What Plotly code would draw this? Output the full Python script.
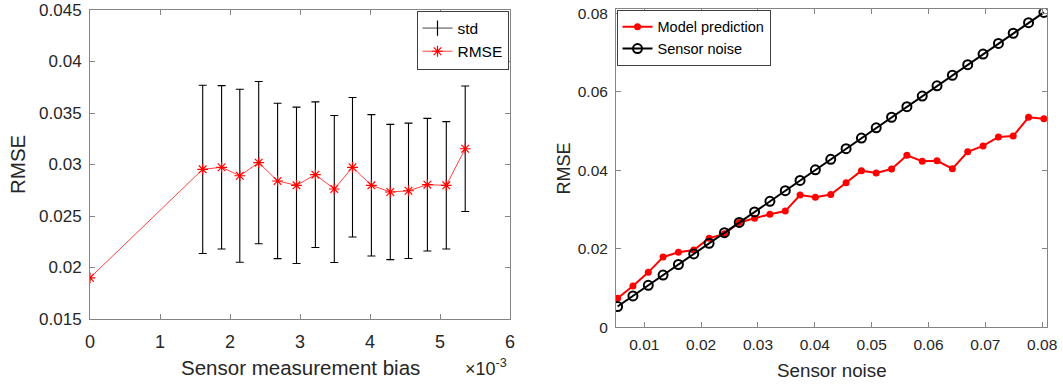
import plotly.graph_objects as go

# ---------------- data: left panel ----------------
bias_x = [0.0, 1.61e-3, 1.88e-3, 2.14e-3, 2.41e-3, 2.68e-3, 2.95e-3, 3.22e-3,
          3.49e-3, 3.75e-3, 4.02e-3, 4.29e-3, 4.55e-3, 4.82e-3, 5.09e-3, 5.36e-3]
bias_rmse = [0.0190, 0.02953, 0.02973, 0.02891, 0.03018, 0.02840, 0.02798, 0.02901,
             0.02762, 0.02973, 0.02798, 0.02733, 0.02745, 0.02804, 0.02798, 0.03153]
# std only exists for the 15 points after the first one
bias_std = [0.00817, 0.00793, 0.00840, 0.00788, 0.00754, 0.00759, 0.00707,
            0.00714, 0.00677, 0.00686, 0.00657, 0.00657, 0.00644, 0.00618, 0.00609]
bias_tickvals = [0, 0.001, 0.002, 0.003, 0.004, 0.005, 0.006]
bias_ticktext = ["0", "1", "2", "3", "4", "5", "6"]
left_yticks = [0.015, 0.02, 0.025, 0.03, 0.035, 0.04, 0.045]
left_yticktext = ["0.015", "0.02", "0.025", "0.03", "0.035", "0.04", "0.045"]

# ---------------- data: right panel ----------------
noise_x = [0.0053, 0.0080, 0.0107, 0.0133, 0.0160, 0.0187, 0.0214, 0.0241, 0.0267,
           0.0294, 0.0321, 0.0348, 0.0374, 0.0401, 0.0428, 0.0455, 0.0482, 0.0508,
           0.0535, 0.0562, 0.0589, 0.0615, 0.0642, 0.0669, 0.0696, 0.0723, 0.0749,
           0.0776, 0.0803]
model_pred = [0.0074, 0.0105, 0.0140, 0.0179, 0.0191, 0.0197, 0.0227, 0.0238, 0.0267,
              0.0278, 0.0288, 0.0296, 0.0337, 0.0331, 0.0338, 0.0368, 0.0399, 0.0393,
              0.0403, 0.0438, 0.0423, 0.0424, 0.0404, 0.0447, 0.0462, 0.0485, 0.0487,
              0.0535, 0.0531]
sensor_noise = [0.0053, 0.0080, 0.0107, 0.0133, 0.0160, 0.0187, 0.0214, 0.0241, 0.0267,
                0.0294, 0.0321, 0.0348, 0.0374, 0.0401, 0.0428, 0.0455, 0.0482, 0.0508,
                0.0535, 0.0562, 0.0589, 0.0615, 0.0642, 0.0669, 0.0696, 0.0723, 0.0749,
                0.0776, 0.0802]
right_xticks = [0.01, 0.02, 0.03, 0.04, 0.05, 0.06, 0.07, 0.08]
right_xticktext = ["0.01", "0.02", "0.03", "0.04", "0.05", "0.06", "0.07", "0.08"]
right_yticks = [0, 0.02, 0.04, 0.06, 0.08]
right_yticktext = ["0", "0.02", "0.04", "0.06", "0.08"]

W, H = 1063, 385
FONT = "Liberation Sans, Arial, sans-serif"
TXT = "#262626"
AX = "#858585"

def px(x):
    return x / W

def py(y):
    return 1 - y / H

fig = go.Figure()

# left: error bars (std)
fig.add_trace(go.Scatter(
    x=bias_x[1:], y=bias_rmse[1:], mode="markers",
    marker=dict(size=1, color="rgba(0,0,0,0)"),
    error_y=dict(type="data", array=bias_std, visible=True, color="black",
                 thickness=1.1, width=4),
    showlegend=False, xaxis="x", yaxis="y", hoverinfo="skip"))
# legend entry for std
fig.add_trace(go.Scatter(
    x=[None], y=[None], mode="lines+markers", name="std",
    line=dict(color="#444444", width=1),
    marker=dict(symbol="line-ns-open", size=11, color="black",
                line=dict(color="black", width=1.2)),
    xaxis="x", yaxis="y", legend="legend"))
# RMSE line
fig.add_trace(go.Scatter(
    x=bias_x, y=bias_rmse, mode="lines+markers", name="RMSE",
    line=dict(color="rgba(255,0,0,0.75)", width=1),
    marker=dict(symbol="asterisk-open", size=9, color="red",
                line=dict(color="red", width=1.2)),
    xaxis="x", yaxis="y", legend="legend"))

# right panel
fig.add_trace(go.Scatter(
    x=noise_x, y=model_pred, mode="lines+markers", name="Model prediction",
    line=dict(color="#ff0000", width=2),
    marker=dict(symbol="circle", size=7, color="#ff0000"),
    xaxis="x2", yaxis="y2", legend="legend2"))
fig.add_trace(go.Scatter(
    x=noise_x, y=sensor_noise, mode="lines+markers", name="Sensor noise",
    line=dict(color="black", width=2),
    marker=dict(symbol="circle-open", size=9, color="black",
                line=dict(color="black", width=2)),
    xaxis="x2", yaxis="y2", legend="legend2"))

axis_common = dict(showline=True, linecolor=AX, linewidth=1, mirror="ticks",
                   ticks="inside", ticklen=5, tickcolor=AX, tickwidth=1,
                   showgrid=False, zeroline=False, automargin=False)

fig.update_layout(
    width=W, height=H,
    margin=dict(l=0, r=0, t=0, b=0, pad=0, autoexpand=False),
    paper_bgcolor="white", plot_bgcolor="white",
    font=dict(family=FONT, color=TXT),
    xaxis=dict(domain=[px(90), px(510)], range=[0, 0.006], tickvals=bias_tickvals,
               ticktext=bias_ticktext, tickfont=dict(size=18, color=TXT),
               ticklabelstandoff=6, anchor="y", **axis_common),
    yaxis=dict(domain=[py(319), py(10)], range=[0.015, 0.045], tickvals=left_yticks,
               ticktext=left_yticktext, tickfont=dict(size=17, color=TXT),
               ticklabelstandoff=4, anchor="x", **axis_common),
    xaxis2=dict(domain=[px(616), px(1047.3)], range=[0.00502, 0.0809],
                tickvals=right_xticks, ticktext=right_xticktext,
                tickfont=dict(size=15.5, color=TXT), ticklabelstandoff=3,
                anchor="y2", **axis_common),
    yaxis2=dict(domain=[py(327.3), py(9.3)], range=[0, 0.081], tickvals=right_yticks,
                ticktext=right_yticktext, tickfont=dict(size=15.5, color=TXT),
                ticklabelstandoff=4, anchor="x2", **axis_common),
    legend=dict(x=px(508.5), y=py(10.5), xanchor="right", yanchor="top",
                bgcolor="white", bordercolor="#404040", borderwidth=1,
                font=dict(size=15.5, color="black"), tracegroupgap=0),
    legend2=dict(x=px(616.5), y=py(9.8), xanchor="left", yanchor="top",
                 bgcolor="white", bordercolor="#404040", borderwidth=1,
                 font=dict(size=14.5, color="black"), tracegroupgap=0),
    showlegend=True,
)

ann = [
    dict(text="RMSE", x=px(17.5), y=py(164.5), textangle=-90, font=dict(size=20.5)),
    dict(text="Sensor measurement bias", x=px(300), y=py(367), font=dict(size=20.5)),
    dict(text="×10<sup>-3</sup>", x=px(509), y=py(367), xanchor="right",
         font=dict(size=18)),
    dict(text="RMSE", x=px(563), y=py(168.5), textangle=-90, font=dict(size=18)),
    dict(text="Sensor noise", x=px(831.6), y=py(370), font=dict(size=18.8)),
]
for a in ann:
    a.update(xref="paper", yref="paper", showarrow=False)
    a.setdefault("xanchor", "center")
    a["yanchor"] = "middle"
    a["font"].update(family=FONT, color=TXT)
fig.update_layout(annotations=ann)

fig.write_html(
    "out.html",
    config={"displayModeBar": False},
    post_script="document.body.style.margin='0';document.body.style.overflow='hidden';",
)
